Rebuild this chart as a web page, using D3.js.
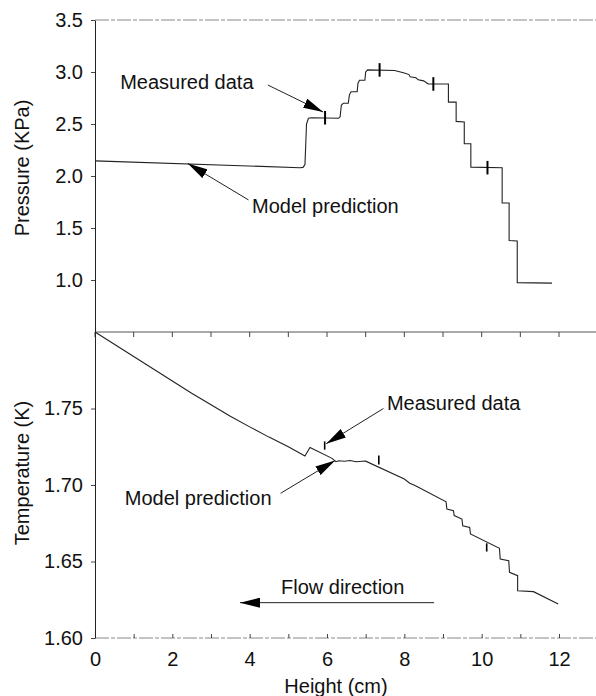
<!DOCTYPE html>
<html>
<head>
<meta charset="utf-8">
<script src="https://cdn.jsdelivr.net/npm/d3@7"></script>
<style>
    body { margin: 0; background: #fff; }
    svg { display: block; }
    text { font-family: "Liberation Sans", Arial, Helvetica, sans-serif; fill: #111; }
</style>
</head>
<body>
<svg id="chart" width="596" height="696"></svg>
<script>

// model prediction, pressure panel (height cm, KPa)
const pressureHeight = [0, 5.30, 5.38, 5.43, 5.45, 5.47, 5.52, 5.60, 6.30, 6.34, 6.37, 6.42, 6.55, 6.58, 6.62, 6.78, 6.80, 6.84, 6.98, 7.00, 7.05, 7.75, 8.00, 8.12, 8.15, 8.30, 8.36, 8.50, 8.58, 8.62, 9.14, 9.14, 9.34, 9.34, 9.55, 9.55, 9.72, 9.72, 10.53, 10.53, 10.71, 10.71, 10.92, 10.92, 11.82];
const pressureValue  = [2.145, 2.08, 2.083, 2.11, 2.30, 2.50, 2.555, 2.56, 2.555, 2.57, 2.68, 2.70, 2.70, 2.78, 2.81, 2.81, 2.89, 2.92, 2.92, 3.00, 3.02, 3.015, 2.99, 2.975, 2.955, 2.945, 2.925, 2.915, 2.895, 2.885, 2.885, 2.71, 2.71, 2.525, 2.52, 2.31, 2.31, 2.085, 2.08, 1.74, 1.74, 1.38, 1.375, 0.975, 0.97];

// measured pressure with error bars
const pressureMeasHeight = [5.95, 7.36, 8.75, 10.15];
const pressureMeasValue  = [2.56, 3.02, 2.885, 2.08];
const pressureMeasErr    = [0.065, 0.065, 0.065, 0.065];

// model prediction, temperature panel (height cm, K)
const tempHeight = [0, 0.5, 1, 1.5, 2, 2.5, 3, 3.5, 4, 4.5, 5, 5.43, 5.56, 6.13, 6.23, 6.30, 6.45, 6.60, 6.75, 6.91, 7.00, 8.00, 8.14, 8.29, 9.08, 9.10, 9.27, 9.29, 9.49, 9.51, 9.69, 9.71, 10.46, 10.48, 10.70, 10.72, 10.93, 10.93, 11.34, 11.98];
const tempValue  = [1.800, 1.792, 1.784, 1.776, 1.768, 1.760, 1.7525, 1.745, 1.738, 1.7313, 1.725, 1.719, 1.7245, 1.7174, 1.7152, 1.7158, 1.7155, 1.7160, 1.7152, 1.7155, 1.7156, 1.7039, 1.7012, 1.6995, 1.689, 1.6843, 1.6832, 1.680, 1.6777, 1.6734, 1.6723, 1.668, 1.6586, 1.6516, 1.6505, 1.6429, 1.6407, 1.6309, 1.6303, 1.6222];

// measured temperature
const tempMeasHeight = [5.94, 7.34, 10.13];
const tempMeasValue  = [1.7258, 1.7163, 1.6592];
const tempMeasErr    = [0.0027, 0.0029, 0.0027];

const xTicks = d3.range(0, 13);
const pressureTicks = [1.0, 1.5, 2.0, 2.5, 3.0, 3.5];
const tempTicks = [1.60, 1.65, 1.70, 1.75];

// annotations: [label, text x, text y, arrow from x, from y, arrow to x, to y]
const pressureNotes = [
    ["Measured data", 0.65, 2.84, 4.47, 2.875, 5.90, 2.615],
    ["Model prediction", 4.06, 1.64, 3.97, 1.77, 2.40, 2.12]
];
const tempNotes = [
    ["Measured data", 7.55, 1.7492, 7.46, 1.750, 5.98, 1.727],
    ["Model prediction", 0.77, 1.6869, 4.80, 1.6946, 6.21, 1.716],
    ["Flow direction", 4.81, 1.6289, 8.77, 1.6231, 3.75, 1.6231]
];


const svg = d3.select("#chart");

const left = 95, right = 559, rightEdge = 596;
const topY = 20, midY = 332, bottomY = 638;
const fontSize = 20;

const x = d3.scaleLinear().domain([0, 12]).range([left, right]);
const yP = d3.scaleLinear().domain([0.5, 3.5]).range([midY, topY]);
const yT = d3.scaleLinear().domain([1.60, 1.80]).range([bottomY, midY]);

const ink = "#222";

// arrow heads
const defs = svg.append("defs");
defs.append("marker")
    .attr("id", "head")
    .attr("viewBox", "0 0 20 10")
    .attr("refX", 20)
    .attr("refY", 5)
    .attr("markerWidth", 20)
    .attr("markerHeight", 10)
    .attr("markerUnits", "userSpaceOnUse")
    .attr("orient", "auto")
    .append("path")
        .attr("d", "M0,0 L20,5 L0,10 Z")
        .attr("fill", "#000");


// frame lines
svg.append("line")
    .attr("x1", left).attr("x2", rightEdge)
    .attr("y1", topY).attr("y2", topY)
    .attr("stroke", "#888")
    .attr("stroke-dasharray", "14,2,4,2")
;
svg.append("line")
    .attr("x1", left).attr("x2", rightEdge)
    .attr("y1", midY).attr("y2", midY)
    .attr("stroke", "#555")
;
svg.append("line")
    .attr("x1", left).attr("x2", rightEdge)
    .attr("y1", bottomY).attr("y2", bottomY)
    .attr("stroke", "#888")
    .attr("stroke-dasharray", "14,2,4,2")
;

// ticks along the divider
svg.append("g")
    .selectAll("line")
    .data(xTicks)
    .join("line")
        .attr("x1", d => x(d)).attr("x2", d => x(d))
        .attr("y1", midY).attr("y2", midY + 5)
        .attr("stroke", "#444")
;

// bottom x axis
const xAxis = svg.append("g")
    .attr("transform", "translate(0," + bottomY + ")")
    .call(d3.axisBottom(x)
        .tickValues(xTicks)
        .tickFormat(d => d % 2 ? "" : d)
        .tickSize(-4)
        .tickPadding(14));
xAxis.select(".domain").remove();
xAxis.selectAll("line").attr("stroke", "#444");
xAxis.selectAll("text").attr("font-size", fontSize);

// y axes
const pAxis = svg.append("g")
    .attr("transform", "translate(" + left + ",0)")
    .call(d3.axisLeft(yP)
        .tickValues(pressureTicks)
        .tickFormat(d3.format(".1f"))
        .tickSize(4)
        .tickSizeOuter(0)
        .tickPadding(8));

const tAxis = svg.append("g")
    .attr("transform", "translate(" + left + ",0)")
    .call(d3.axisLeft(yT)
        .tickValues(tempTicks)
        .tickFormat(d3.format(".2f"))
        .tickSize(4)
        .tickSizeOuter(0)
        .tickPadding(8));

[pAxis, tAxis].forEach(function (a) {
    a.select(".domain").attr("stroke", ink);
    a.selectAll("line").attr("stroke", "#444");
    a.selectAll("text").attr("font-size", fontSize);
});


// axis titles
svg.append("text")
    .attr("transform", "translate(29,168) rotate(-90)")
    .attr("text-anchor", "middle")
    .attr("font-size", fontSize)
    .text("Pressure (KPa)");

svg.append("text")
    .attr("transform", "translate(29,473) rotate(-90)")
    .attr("text-anchor", "middle")
    .attr("font-size", fontSize)
    .text("Temperature (K)");

svg.append("text")
    .attr("x", 336)
    .attr("y", 693)
    .attr("text-anchor", "middle")
    .attr("font-size", fontSize)
    .text("Height (cm)");


// model curves
const pressureLine = d3.line()
    .x(d => x(d[0]))
    .y(d => yP(d[1]));

const tempLine = d3.line()
    .x(d => x(d[0]))
    .y(d => yT(d[1]));

svg.append("path")
    .datum(d3.zip(pressureHeight, pressureValue))
    .attr("d", pressureLine)
    .attr("fill", "none")
    .attr("stroke", ink)
    .attr("stroke-width", 1.1)
;

svg.append("path")
    .datum(d3.zip(tempHeight, tempValue))
    .attr("d", tempLine)
    .attr("fill", "none")
    .attr("stroke", ink)
    .attr("stroke-width", 1.1)
;


// measured error bars
svg.append("g")
    .selectAll("line")
    .data(d3.zip(pressureMeasHeight, pressureMeasValue, pressureMeasErr))
    .join("line")
        .attr("x1", d => x(d[0])).attr("x2", d => x(d[0]))
        .attr("y1", d => yP(d[1] + d[2]))
        .attr("y2", d => yP(d[1] - d[2]))
        .attr("stroke", "#000")
        .attr("stroke-width", 2)
;

svg.append("g")
    .selectAll("line")
    .data(d3.zip(tempMeasHeight, tempMeasValue, tempMeasErr))
    .join("line")
        .attr("x1", d => x(d[0])).attr("x2", d => x(d[0]))
        .attr("y1", d => yT(d[1] + d[2]))
        .attr("y2", d => yT(d[1] - d[2]))
        .attr("stroke", "#000")
        .attr("stroke-width", 1.6)
;


// annotations
const drawNotes = function (notes, y) {
    const g = svg.append("g");

    g.selectAll("line")
        .data(notes)
        .join("line")
            .attr("x1", d => x(d[3]))
            .attr("y1", d => y(d[4]))
            .attr("x2", d => x(d[5]))
            .attr("y2", d => y(d[6]))
            .attr("stroke", ink)
            .attr("stroke-width", 1)
            .attr("marker-end", "url(#head)")
    ;

    g.selectAll("text")
        .data(notes)
        .join("text")
            .attr("x", d => x(d[1]))
            .attr("y", d => y(d[2]))
            .attr("font-size", fontSize)
            .text(d => d[0])
    ;
};

drawNotes(pressureNotes, yP);
drawNotes(tempNotes, yT);

</script>
</body>
</html>
